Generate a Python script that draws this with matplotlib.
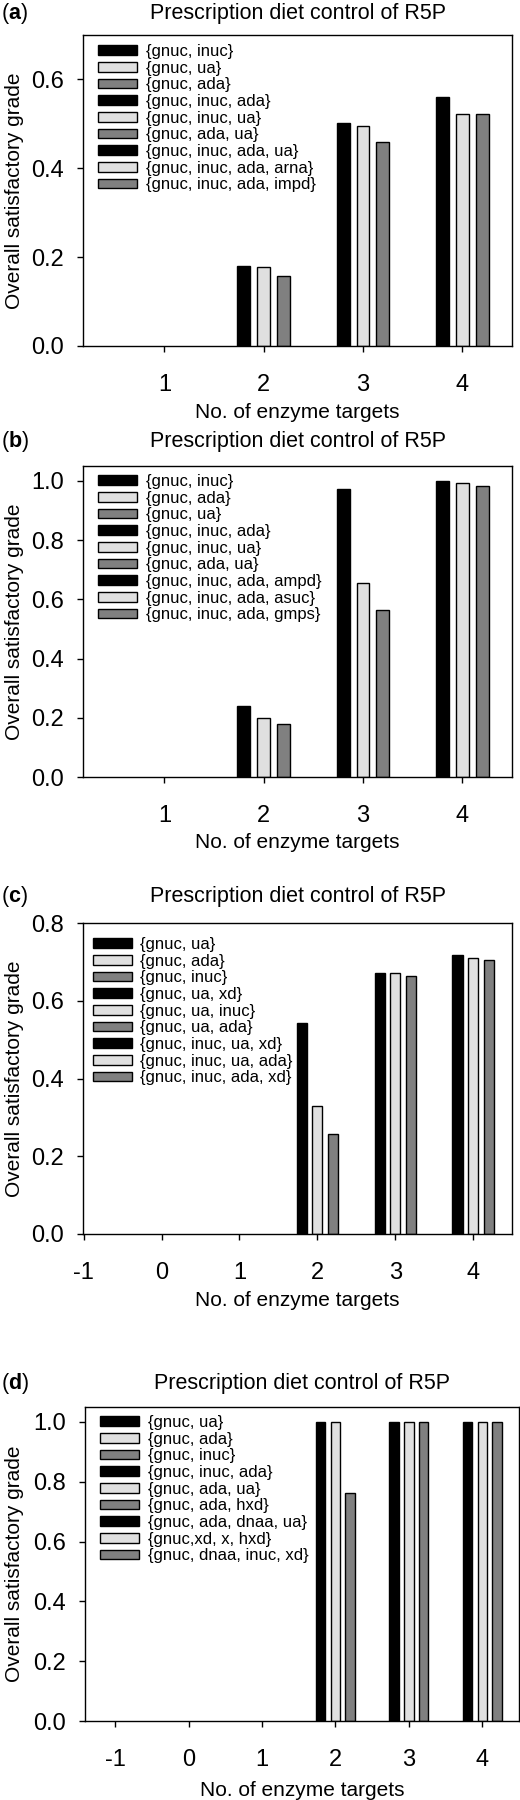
import matplotlib
matplotlib.use('Agg')
import matplotlib.pyplot as plt
import numpy as np

plt.rcParams['font.family'] = ['Liberation Sans', 'DejaVu Sans']
plt.rcParams['mathtext.fontset'] = 'custom'
plt.rcParams['mathtext.rm'] = 'Liberation Sans'
plt.rcParams['mathtext.bf'] = 'Liberation Sans:bold'
plt.rcParams['axes.unicode_minus'] = False

title = 'Prescription diet control of R5P'
xlabel = 'No. of enzyme targets'
ylabel = 'Overall satisfactory grade'
colors = ['#000000', '#e0e0e0', '#808080']

# group position of each of the 9 series (3 bars per group)
series_x = [2, 2, 2, 3, 3, 3, 4, 4, 4]

labels_a = ['{gnuc, inuc}', '{gnuc, ua}', '{gnuc, ada}',
            '{gnuc, inuc, ada}', '{gnuc, inuc, ua}', '{gnuc, ada, ua}',
            '{gnuc, inuc, ada, ua}', '{gnuc, inuc, ada, arna}', '{gnuc, inuc, ada, impd}']
values_a = [0.181, 0.178, 0.157, 0.502, 0.496, 0.459, 0.560, 0.523, 0.522]

labels_b = ['{gnuc, inuc}', '{gnuc, ada}', '{gnuc, ua}',
            '{gnuc, inuc, ada}', '{gnuc, inuc, ua}', '{gnuc, ada, ua}',
            '{gnuc, inuc, ada, ampd}', '{gnuc, inuc, ada, asuc}', '{gnuc, inuc, ada, gmps}']
values_b = [0.239, 0.198, 0.178, 0.973, 0.655, 0.564, 1.0, 0.992, 0.983]

labels_c = ['{gnuc, ua}', '{gnuc, ada}', '{gnuc, inuc}',
            '{gnuc, ua, xd}', '{gnuc, ua, inuc}', '{gnuc, ua, ada}',
            '{gnuc, inuc, ua, xd}', '{gnuc, inuc, ua, ada}', '{gnuc, inuc, ada, xd}']
values_c = [0.544, 0.329, 0.257, 0.672, 0.672, 0.664, 0.717, 0.711, 0.705]

labels_d = ['{gnuc, ua}', '{gnuc, ada}', '{gnuc, inuc}',
            '{gnuc, inuc, ada}', '{gnuc, ada, ua}', '{gnuc, ada, hxd}',
            '{gnuc, ada, dnaa, ua}', '{gnuc,xd, x, hxd}', '{gnuc, dnaa, inuc, xd}']
values_d = [1.0, 1.0, 0.761, 1.0, 1.0, 1.0, 1.0, 1.0, 1.0]

W, H = 520, 1800
fig = plt.figure(figsize=(W / 100, H / 100), dpi=100)


def px_axes(left, right, top, bottom):
    return fig.add_axes([left / W, 1 - bottom / H, (right - left) / W, (bottom - top) / H])


def panel(letter, box, labels, values, xlim, ylim, xticks, yticks, leg_xy, title_y, xlab_y):
    left, right, top, bottom = box
    ax = px_axes(left, right, top, bottom)
    offsets = [-0.2, 0.0, 0.2]
    for i, (lab, val) in enumerate(zip(labels, values)):
        ax.bar(series_x[i] + offsets[i % 3], val, width=0.13, color=colors[i % 3],
               edgecolor='black', linewidth=1.0, label=lab)
    ax.set_xlim(*xlim)
    ax.set_ylim(*ylim)
    ax.set_xticks(xticks)
    ax.set_yticks(yticks)
    ax.set_yticklabels(['%.1f' % t for t in yticks])
    ax.tick_params(axis='x', direction='out', length=4, width=1, pad=16, labelsize=17)
    ax.tick_params(axis='y', direction='out', length=4, width=1, pad=10, labelsize=17)
    for s in ax.spines.values():
        s.set_linewidth(1.0)
    lx, ly = leg_xy
    ax.legend(loc='upper left', bbox_to_anchor=(lx / W, 1 - ly / H),
              bbox_transform=fig.transFigure, frameon=False, fontsize=12,
              handlelength=2.35, handleheight=0.52, handletextpad=0.5,
              labelspacing=0.1, borderpad=0, borderaxespad=0)
    cx = (left + right) / 2
    fig.text(cx / W, 1 - title_y / H, title, ha='center', va='center', fontsize=15.5)
    fig.text(cx / W, 1 - xlab_y / H, xlabel, ha='center', va='center', fontsize=15)
    fig.text(15 / W, 1 - (top + bottom) / 2 / H, ylabel, ha='center', va='center',
             rotation=90, fontsize=15)
    fig.text(1 / W, 1 - title_y / H, r'($\mathbf{%s}$)' % letter, ha='left', va='center',
             fontsize=15.5)
    return ax


panel('a', (83, 512, 35, 346), labels_a, values_a, (0.18, 4.5), (0, 0.7),
      [1, 2, 3, 4], [0.0, 0.2, 0.4, 0.6], (98, 44), 13, 413)
panel('b', (83, 512, 466, 777), labels_b, values_b, (0.18, 4.5), (0, 1.05),
      [1, 2, 3, 4], [0.0, 0.2, 0.4, 0.6, 0.8, 1.0], (98, 474), 441, 843)
panel('c', (83, 512, 923, 1234), labels_c, values_c, (-1.01, 4.5), (0, 0.8),
      [-1, 0, 1, 2, 3, 4], [0.0, 0.2, 0.4, 0.6, 0.8], (93, 937), 897, 1300)
panel('d', (85, 519, 1407, 1721), labels_d, values_d, (-1.41, 4.5), (0, 1.05),
      [-1, 0, 1, 2, 3, 4], [0.0, 0.2, 0.4, 0.6, 0.8, 1.0], (100, 1415), 1383, 1790)

fig.savefig('out.png', dpi=100)
